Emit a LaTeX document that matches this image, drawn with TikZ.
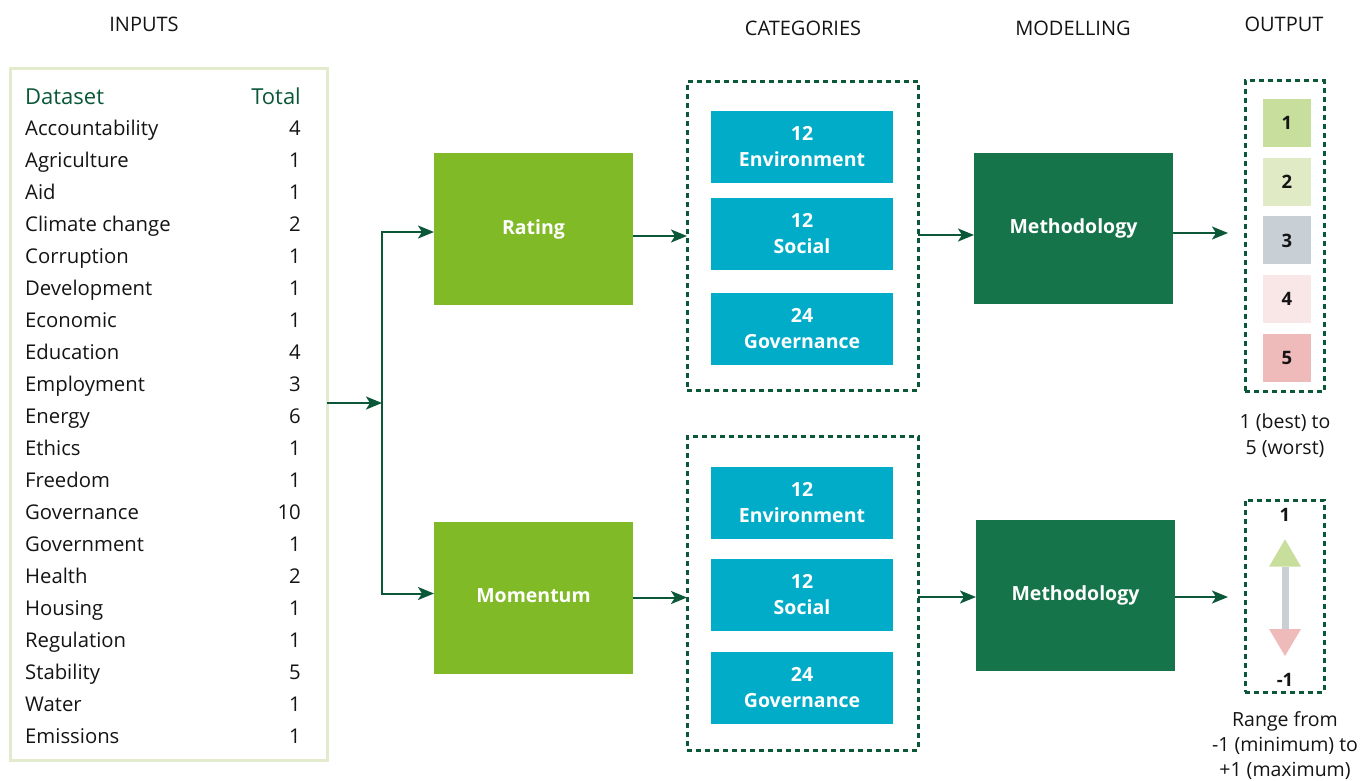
\documentclass[tikz,border=0pt]{standalone}
\usepackage{fontspec}
\setmainfont{Open Sans}
\usetikzlibrary{arrows.meta}
\definecolor{dg}{RGB}{10,88,56}
\definecolor{tblc}{RGB}{226,235,205}
\definecolor{lime}{RGB}{128,186,39}
\definecolor{cyanb}{RGB}{0,172,200}
\definecolor{methc}{RGB}{22,116,74}
\definecolor{sqa}{RGB}{200,222,156}
\definecolor{sqb}{RGB}{224,235,198}
\definecolor{sqc}{RGB}{200,208,214}
\definecolor{sqd}{RGB}{249,230,230}
\definecolor{sqe}{RGB}{239,186,186}
\definecolor{txt}{RGB}{20,20,20}
\begin{document}
\begin{tikzpicture}[x=1pt,y=-1pt,
  ttl/.style={font=\fontsize{20}{24}\selectfont, text=txt, inner sep=0pt},
  rowtxt/.style={font=\fontsize{20.3}{24}\selectfont, text=txt, inner sep=0pt},
  hdr/.style={font=\fontsize{22}{26}\selectfont, text=dg, inner sep=0pt},
  solidbox/.style={inner sep=0pt, outer sep=0pt, align=center, text=white,
    font=\fontsize{19.5}{26}\selectfont\bfseries},
  dashbox/.style={draw=dg, line width=3pt, dash pattern=on 5pt off 4pt, inner sep=0pt, outer sep=0pt},
  sq/.style={minimum width=48pt, minimum height=48pt, inner sep=0pt, font=\fontsize{18.5}{22}\selectfont\bfseries, text=txt},
  arr/.style={draw=dg, line width=2pt, -{Stealth[length=16pt,width=13pt,inset=4pt]}},
  lbl/.style={font=\fontsize{19.5}{26}\selectfont, text=txt, align=center, inner sep=0pt}
]
\useasboundingbox (0,0) rectangle (1361,780);

% titles
\node[ttl] (tin) at (144,24) {INPUTS};
\node[ttl] (tcat) at (803,28) {CATEGORIES};
\node[ttl] (tmod) at (1073,28) {MODELLING};
\node[ttl] (tout) at (1284,24) {OUTPUT};

% table
\node[draw=tblc, line width=3pt, minimum width=317pt, minimum height=692pt, inner sep=0pt, outer sep=0pt] (tbl) at (168.5,414.5) {};
\node[hdr, anchor=base west] (hd) at (25,104) {Dataset};
\node[hdr, anchor=base east] (ht) at (301,104) {Total};
\foreach \n/\v [count=\i] in {Accountability/4, Agriculture/1, Aid/1, Climate change/2, Corruption/1, Development/1, Economic/1, Education/4, Employment/3, Energy/6, Ethics/1, Freedom/1, Governance/10, Government/1, Health/2, Housing/1, Regulation/1, Stability/5, Water/1, Emissions/1} {
  \node[rowtxt, anchor=base west] (d\i) at (25, 103+32*\i) {\n};
  \node[rowtxt, anchor=base east] (n\i) at (301, 103+32*\i) {\v};
}

% split
\coordinate (split) at (382,403);
\draw[arr] (tbl.east |- split) -- (split);

% rating / momentum
\node[solidbox, fill=lime, minimum width=199pt, minimum height=152pt] (rating) at (533.5,229) {\raisebox{4pt}{Rating}};
\node[solidbox, fill=lime, minimum width=199pt, minimum height=152pt] (mom) at (533.5,597.5) {\raisebox{4pt}{Momentum}};
\draw[arr] (split) |- ([yshift=-3pt]rating.west);
\draw[arr] (split) |- ([yshift=4pt]mom.west);

% categories
\node[dashbox, minimum width=231pt, minimum height=308.5pt] (cat1) at (802.5,236) {};
\node[dashbox, minimum width=231pt, minimum height=313.5pt] (cat2) at (802.5,593.5) {};
\node[solidbox, fill=cyanb, minimum width=182pt, minimum height=72pt] (c1a) at (802,147) {12\\Environment};
\node[solidbox, fill=cyanb, minimum width=182pt, minimum height=72pt] (c1b) at (802,234) {12\\Social};
\node[solidbox, fill=cyanb, minimum width=182pt, minimum height=72pt] (c1c) at (802,329) {24\\Governance};
\node[solidbox, fill=cyanb, minimum width=182pt, minimum height=72pt] (c2a) at (802,503) {12\\Environment};
\node[solidbox, fill=cyanb, minimum width=182pt, minimum height=72pt] (c2b) at (802,595) {12\\Social};
\node[solidbox, fill=cyanb, minimum width=182pt, minimum height=72pt] (c2c) at (802,688) {24\\Governance};

\draw[arr] (rating.east |- cat1.west) -- (cat1.west);
\draw[arr] (mom.east) -- (mom.east -| cat2.west);

% methodology
\node[solidbox, fill=methc, minimum width=199pt, minimum height=151pt] (meth1) at (1073.5,228.5) {Methodology};
\node[solidbox, fill=methc, minimum width=199pt, minimum height=151pt] (meth2) at (1075.5,595) {Methodology};
\draw[arr] (cat1.east |- 0,235) -- (meth1.west |- 0,235);
\draw[arr] (cat2.east |- 0,597) -- (meth2.west |- 0,597);

% outputs
\node[dashbox, minimum width=79pt, minimum height=311pt] (out1) at (1284.5,236) {};
\node[dashbox, minimum width=79pt, minimum height=192pt] (out2) at (1284.5,596) {};
\coordinate (t1) at ([xshift=-17pt]out1.west |- 0,233);
\coordinate (t2) at ([xshift=-17pt]out2.west |- 0,597);
\draw[arr] (meth1.east |- t1) -- (t1);
\draw[arr] (meth2.east |- t2) -- (t2);

\foreach \c/\t [count=\i] in {sqa/1, sqb/2, sqc/3, sqd/4, sqe/5} {
  \node[sq, fill=\c] (s\i) at (1287, 123+58.7*\i-58.7) {\t};
}
\node[lbl] (l1) at (1285,436) {1 (best) to\\5 (worst)};

\node[sq, minimum width=0pt, minimum height=0pt] (top) at (1285,515) {1};
\node[sq, minimum width=0pt, minimum height=0pt] (bot) at (1285,680) {-1};
\fill[sqa] (1269,566.7) -- (1285,539.3) -- (1301,566.7) -- cycle;
\fill[sqc] (1281.5,566.7) rectangle (1289,629);
\fill[sqe] (1269,629) -- (1285,656) -- (1301,629) -- cycle;
\node[lbl, font=\fontsize{19.5}{25}\selectfont] (l2) at (1285,746) {Range from\\-1 (minimum) to\\+1 (maximum)};
\end{tikzpicture}
\end{document}
